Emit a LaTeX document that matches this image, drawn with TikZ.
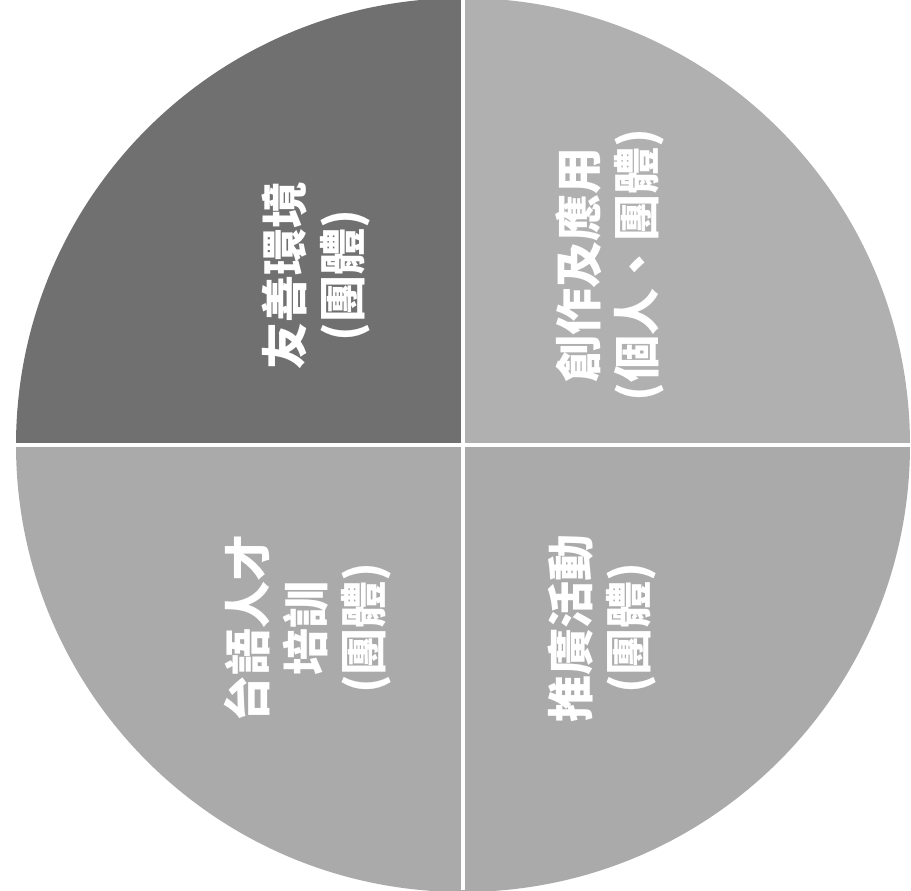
\documentclass[tikz,border=0pt]{standalone}
\usepackage{fontspec}
\newfontfamily\cjk{Noto Sans CJK TC}
\usepackage{tikz}
\usetikzlibrary{positioning}
\usepackage{xcolor}
\definecolor{pidark}{RGB}{112,112,112}
\definecolor{pilight}{RGB}{176,176,176}
\definecolor{pilight2}{RGB}{170,170,170}
\tikzstyle{sectortext} = [text=white, rotate=90, align=center, inner sep=0pt, font=\cjk\bfseries\fontsize{23.5}{29}\selectfont]
\tikzstyle{divider} = [white, line width=2.2pt]

\begin{document}
\begin{tikzpicture}[x=0.5pt,y=0.5pt]
\useasboundingbox (0,0) rectangle (911,890);
\coordinate (c) at (463,445);

% Quadrants
\fill[pidark] (c) -- ++(0,447) arc[start angle=90, end angle=180, radius=447] -- cycle;
\fill[pilight] (c) -- ++(447,0) arc[start angle=0, end angle=90, radius=447] -- cycle;
\fill[pilight2] (c) -- ++(-447,0) arc[start angle=180, end angle=270, radius=447] -- cycle;
\fill[pilight2] (c) -- ++(0,-447) arc[start angle=270, end angle=360, radius=447] -- cycle;

% Dividers
\draw[divider] (463,0) -- (463,890);
\draw[divider] (0,445) -- (911,445);

% Sector labels
\node (friendly) [sectortext] at (316,614) {友善環境\\(團體)};
\node (create) [sectortext] at (610,625) {創作及應用\\(個人、團體)};
\node (training) [sectortext] at (308,262) {台語人才\\培訓\\(團體)};
\node (promo) [sectortext] at (602,262) {推廣活動\\(團體)};
\end{tikzpicture}
\end{document}
